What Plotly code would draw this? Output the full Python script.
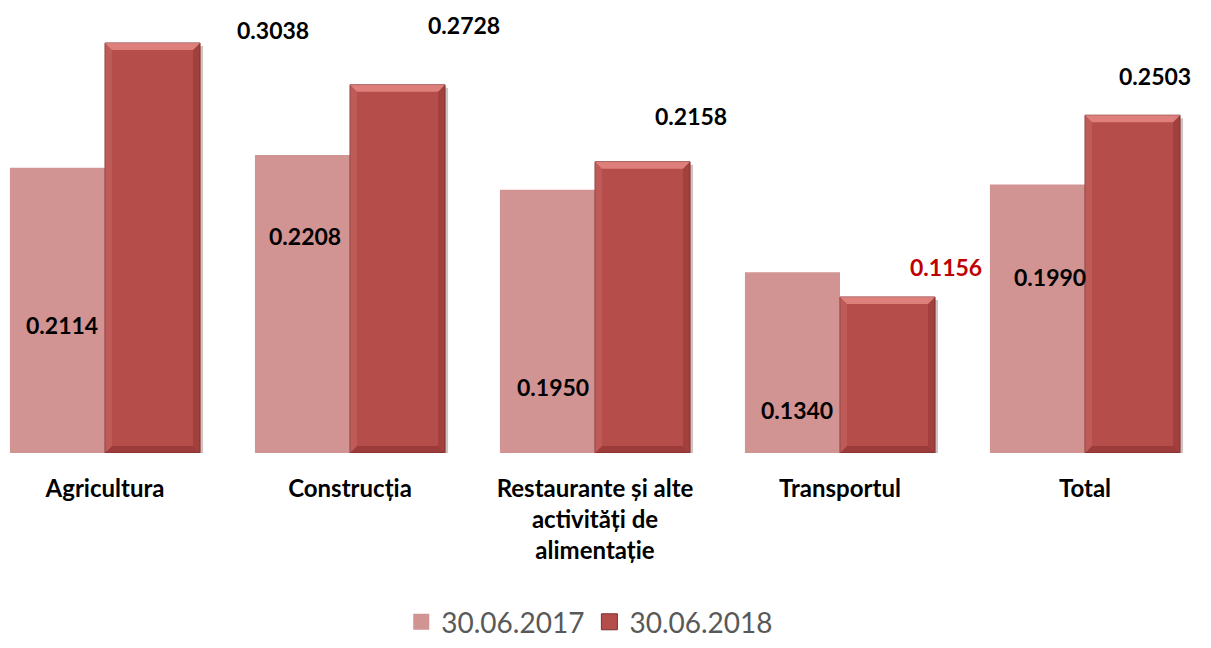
import plotly.graph_objects as go

categories = ["Agricultura", "Construcția", "Restaurante și alte<br>activități de<br>alimentație", "Transportul", "Total"]
series_2017 = [0.2114, 0.2208, 0.1950, 0.1340, 0.1990]
series_2018 = [0.3038, 0.2728, 0.2158, 0.1156, 0.2503]
labels_2017 = ["0.2114", "0.2208", "0.1950", "0.1340", "0.1990"]
labels_2018 = ["0.3038", "0.2728", "0.2158", "0.1156", "0.2503"]
legend_names = ["30.06.2017", "30.06.2018"]

# label placement (pixels)
rise_2017 = [128, 217, 66, 43, 176]
dx_2017 = [5, 3, 6, 5, 13]
dx_2018 = [120, 66, 48, 58, 22]
dy_2018 = [13, 60, 46, 30, 39]
color_2018_labels = ["black", "black", "black", "#C00000", "black"]

C17 = "#D29393"
C18 = "#B54D4A"
FONT = "Lato"

W, H = 1211, 648
PX_X = 245.0          # pixels per category
PX_Y = 1349.6         # pixels per unit value
BARGAP = 0.224
BAR_W = (1 - BARGAP) / 2   # width of one bar in category units

fig = go.Figure()
fig.add_trace(go.Bar(x=categories, y=series_2017, name=legend_names[0], showlegend=False,
                     marker=dict(color=C17, line=dict(width=0))))
fig.add_trace(go.Bar(x=categories, y=series_2018, name=legend_names[1], showlegend=False,
                     marker=dict(color=C18, line=dict(color="#8A3835", width=1))))
# legend entries with larger square symbols
fig.add_trace(go.Scatter(x=[None], y=[None], mode="markers", name=legend_names[0],
                         marker=dict(symbol="square", size=17, color=C17, line=dict(width=0))))
fig.add_trace(go.Scatter(x=[None], y=[None], mode="markers", name=legend_names[1],
                         marker=dict(symbol="square", size=17, color=C18, line=dict(color="#7A302E", width=1))))

# bevel / shadow decoration on the 2018 bars, derived from the data
bx, by = 7 / PX_X, 7 / PX_Y
sx, sy = 3 / PX_X, 3 / PX_Y
for i, v in enumerate(series_2018):
    x0, x1 = i, i + BAR_W
    fig.add_shape(type="rect", xref="x", yref="y", x0=x0 + sx, x1=x1 + sx, y0=-sy, y1=v - sy,
                  fillcolor="rgba(60,20,20,0.25)", line=dict(width=0), layer="below")
    fig.add_shape(type="path", xref="x", yref="y",
                  path=f"M {x0},{v} L {x1},{v} L {x1-bx},{v-by} L {x0+bx},{v-by} Z",
                  fillcolor="rgba(255,170,165,0.55)", line=dict(width=0))
    fig.add_shape(type="path", xref="x", yref="y",
                  path=f"M {x0},0 L {x1},0 L {x1-bx},{by} L {x0+bx},{by} Z",
                  fillcolor="rgba(110,30,28,0.35)", line=dict(width=0))
    fig.add_shape(type="path", xref="x", yref="y",
                  path=f"M {x0},0 L {x0},{v} L {x0+bx},{v-by} L {x0+bx},{by} Z",
                  fillcolor="rgba(255,200,195,0.12)", line=dict(width=0))
    fig.add_shape(type="path", xref="x", yref="y",
                  path=f"M {x1},0 L {x1},{v} L {x1-bx},{v-by} L {x1-bx},{by} Z",
                  fillcolor="rgba(90,20,20,0.22)", line=dict(width=0))

half_bar_px = BAR_W * PX_X / 2
for i, c in enumerate(categories):
    fig.add_annotation(x=c, y=0, xref="x", yref="y", text=labels_2017[i], showarrow=False,
                       xshift=-half_bar_px + dx_2017[i], yshift=rise_2017[i],
                       font=dict(family=FONT, size=23, color="black", weight="bold"))
    fig.add_annotation(x=c, y=series_2018[i], xref="x", yref="y", text=labels_2018[i], showarrow=False,
                       xshift=half_bar_px + dx_2018[i], yshift=dy_2018[i],
                       font=dict(family=FONT, size=23, color=color_2018_labels[i], weight="bold"))

fig.update_layout(
    width=W, height=H,
    margin=dict(l=0, r=0, t=0, b=195, autoexpand=False),
    paper_bgcolor="white", plot_bgcolor="white",
    barmode="group", bargap=BARGAP, bargroupgap=0,
    showlegend=True,
    legend=dict(orientation="h", x=0.487, xanchor="center", y=-195 / 453 + 0.002, yanchor="bottom",
                font=dict(family=FONT, size=28, color="#595959"),
                traceorder="normal", bgcolor="rgba(0,0,0,0)", borderwidth=0),
    xaxis=dict(range=[-105 / PX_X, (W - 105) / PX_X], showgrid=False, zeroline=False, showline=False,
               ticks="outside", ticklen=14, tickcolor="rgba(0,0,0,0)",
               tickfont=dict(family=FONT, size=24, color="black", weight="bold")),
    yaxis=dict(range=[0, 453 / PX_Y], visible=False, showgrid=False, zeroline=False),
)
fig.write_html("out.html", config={"displayModeBar": False},
               post_script="document.body.style.margin='0';document.body.style.overflow='hidden';")
